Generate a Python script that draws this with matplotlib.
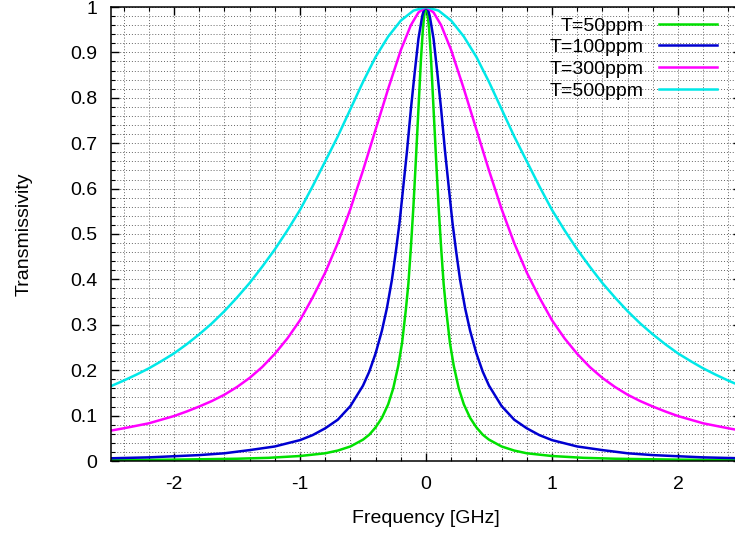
import matplotlib
matplotlib.use("Agg")
import matplotlib.pyplot as plt
from matplotlib.ticker import MultipleLocator

plt.rcParams['font.family'] = ['Liberation Sans', 'DejaVu Sans']
plt.rcParams['axes.unicode_minus'] = False

# values (frequency in GHz, transmissivity)
labels = ["T=50ppm", "T=100ppm", "T=300ppm", "T=500ppm"]
colors = ["#00e000", "#0000d0", "#ff00ff", "#00e8e8"]

f_50 = [-2.5, -2.0, -1.5, -1.25, -1.0, -0.8, -0.7, -0.6, -0.5, -0.45, -0.4, -0.35,
        -0.3, -0.26, -0.22, -0.19, -0.16, -0.14, -0.12, -0.10, -0.08, -0.06, -0.04,
        -0.025, -0.012, 0.0,
        0.012, 0.025, 0.04, 0.06, 0.08, 0.10, 0.12, 0.14, 0.16, 0.19, 0.22, 0.26,
        0.3, 0.35, 0.4, 0.45, 0.5, 0.6, 0.7, 0.8, 1.0, 1.25, 1.5, 2.0, 2.5]
t_50 = [0.002, 0.003, 0.005, 0.007, 0.011, 0.017, 0.023, 0.032, 0.047, 0.058, 0.074, 0.095,
        0.125, 0.16, 0.21, 0.26, 0.333, 0.39, 0.47, 0.56, 0.665, 0.775, 0.885,
        0.95, 0.988, 1.0,
        0.988, 0.95, 0.885, 0.775, 0.665, 0.56, 0.47, 0.39, 0.333, 0.26, 0.21, 0.16,
        0.125, 0.095, 0.074, 0.058, 0.047, 0.032, 0.023, 0.017, 0.011, 0.007, 0.005, 0.003, 0.002]

f_100 = [-2.5, -2.2, -2.0, -1.8, -1.6, -1.4, -1.2, -1.0, -0.9, -0.8, -0.7, -0.6, -0.5,
         -0.45, -0.4, -0.35, -0.31, -0.27, -0.24, -0.21, -0.18, -0.15, -0.12, -0.09,
         -0.06, -0.03, -0.015, 0.0,
         0.015, 0.03, 0.06, 0.09, 0.12, 0.15, 0.18, 0.21, 0.24, 0.27, 0.31, 0.35,
         0.4, 0.45, 0.5, 0.6, 0.7, 0.8, 0.9, 1.0, 1.2, 1.4, 1.6, 1.8, 2.0, 2.2, 2.5]
t_100 = [0.006, 0.008, 0.0105, 0.013, 0.017, 0.024, 0.032, 0.046, 0.057, 0.072, 0.091, 0.121, 0.166,
         0.197, 0.237, 0.287, 0.337, 0.40, 0.46, 0.525, 0.605, 0.685, 0.775, 0.855,
         0.93, 0.98, 0.995, 1.0,
         0.995, 0.98, 0.93, 0.855, 0.775, 0.685, 0.605, 0.525, 0.46, 0.40, 0.337, 0.287,
         0.237, 0.197, 0.166, 0.121, 0.091, 0.072, 0.057, 0.046, 0.032, 0.024, 0.017, 0.013, 0.0105, 0.008, 0.006]

f_300 = [-2.5, -2.4, -2.2, -2.0, -1.9, -1.8, -1.7, -1.6, -1.5, -1.4, -1.3, -1.2, -1.1,
         -1.0, -0.9, -0.8, -0.7, -0.6, -0.5, -0.4, -0.3, -0.2, -0.12, -0.06, 0.0,
         0.06, 0.12, 0.2, 0.3, 0.4, 0.5, 0.6, 0.7, 0.8, 0.9, 1.0, 1.1, 1.2, 1.3,
         1.4, 1.5, 1.6, 1.7, 1.8, 1.9, 2.0, 2.2, 2.4, 2.5]
t_300 = [0.067, 0.072, 0.083, 0.099, 0.109, 0.12, 0.132, 0.146, 0.163, 0.183, 0.207, 0.236, 0.27,
         0.31, 0.36, 0.415, 0.48, 0.555, 0.64, 0.73, 0.82, 0.905, 0.96, 0.988, 1.0,
         0.988, 0.96, 0.905, 0.82, 0.73, 0.64, 0.555, 0.48, 0.415, 0.36, 0.31, 0.27, 0.236, 0.207,
         0.183, 0.163, 0.146, 0.132, 0.12, 0.109, 0.099, 0.083, 0.072, 0.067]

f_500 = [-2.5, -2.4, -2.3, -2.2, -2.1, -2.0, -1.9, -1.8, -1.7, -1.6, -1.5, -1.4, -1.3,
         -1.2, -1.1, -1.0, -0.9, -0.8, -0.7, -0.6, -0.5, -0.4, -0.3, -0.2, -0.1, 0.0,
         0.1, 0.2, 0.3, 0.4, 0.5, 0.6, 0.7, 0.8, 0.9, 1.0, 1.1, 1.2, 1.3, 1.4, 1.5,
         1.6, 1.7, 1.8, 1.9, 2.0, 2.1, 2.2, 2.3, 2.4, 2.5]
t_500 = [0.165, 0.177, 0.19, 0.204, 0.22, 0.237, 0.257, 0.279, 0.303, 0.33, 0.36, 0.392, 0.428,
         0.466, 0.508, 0.553, 0.605, 0.66, 0.715, 0.775, 0.835, 0.89, 0.935, 0.97, 0.992, 1.0,
         0.992, 0.97, 0.935, 0.89, 0.835, 0.775, 0.715, 0.66, 0.605, 0.553, 0.508, 0.466, 0.428, 0.392, 0.36,
         0.33, 0.303, 0.279, 0.257, 0.237, 0.22, 0.204, 0.19, 0.177, 0.165]

series = [(f_50, t_50), (f_100, t_100), (f_300, t_300), (f_500, t_500)]

fig = plt.figure(figsize=(7.35, 5.35), dpi=100)
# right border of the plot lies just outside the image, as in the reference
ax = fig.add_axes([111 / 735, 74 / 535, 630 / 735, 454 / 535])

for (f, t), lab, c in zip(series, labels, colors):
    ax.plot(f, t, color=c, lw=1.8, label=lab, solid_joinstyle='round')

ax.set_xlim(-2.5, 2.5)
ax.set_ylim(0, 1)
ax.xaxis.set_major_locator(MultipleLocator(1))
ax.xaxis.set_minor_locator(MultipleLocator(0.2))
ax.yaxis.set_major_locator(MultipleLocator(0.1))
ax.yaxis.set_minor_locator(MultipleLocator(0.02))
ax.yaxis.set_major_formatter(plt.FuncFormatter(lambda v, p: "%g" % round(v, 2)))
ax.xaxis.set_major_formatter(plt.FuncFormatter(lambda v, p: "%g" % round(v, 2)))

ax.grid(True, which='both', color='0.4', linestyle=(0, (1, 2)), lw=0.7)
ax.set_axisbelow(True)
ax.tick_params(which='both', direction='in', top=True, right=True, color='black')
ax.tick_params(which='major', length=6, width=1, labelsize=14)
ax.tick_params(axis='y', which='major', pad=10)
ax.tick_params(axis='x', which='major', pad=11)
ax.tick_params(which='minor', length=3, width=0.8)
for s in ax.spines.values():
    s.set_linewidth(1.1)

ax.set_xlabel("Frequency [GHz]", fontsize=14, labelpad=12)
ax.set_ylabel("Transmissivity", fontsize=14, labelpad=27)

leg = ax.legend(loc='upper right', bbox_to_anchor=(717 / 735, 1 - 17 / 535),
                bbox_transform=fig.transFigure, frameon=False, fontsize=14,
                markerfirst=False, handlelength=3.0, handletextpad=0.75,
                labelspacing=0.21, borderpad=0, borderaxespad=0)
for t in leg.get_texts():
    t.set_ha('right')

fig.savefig("out.png", dpi=100)
